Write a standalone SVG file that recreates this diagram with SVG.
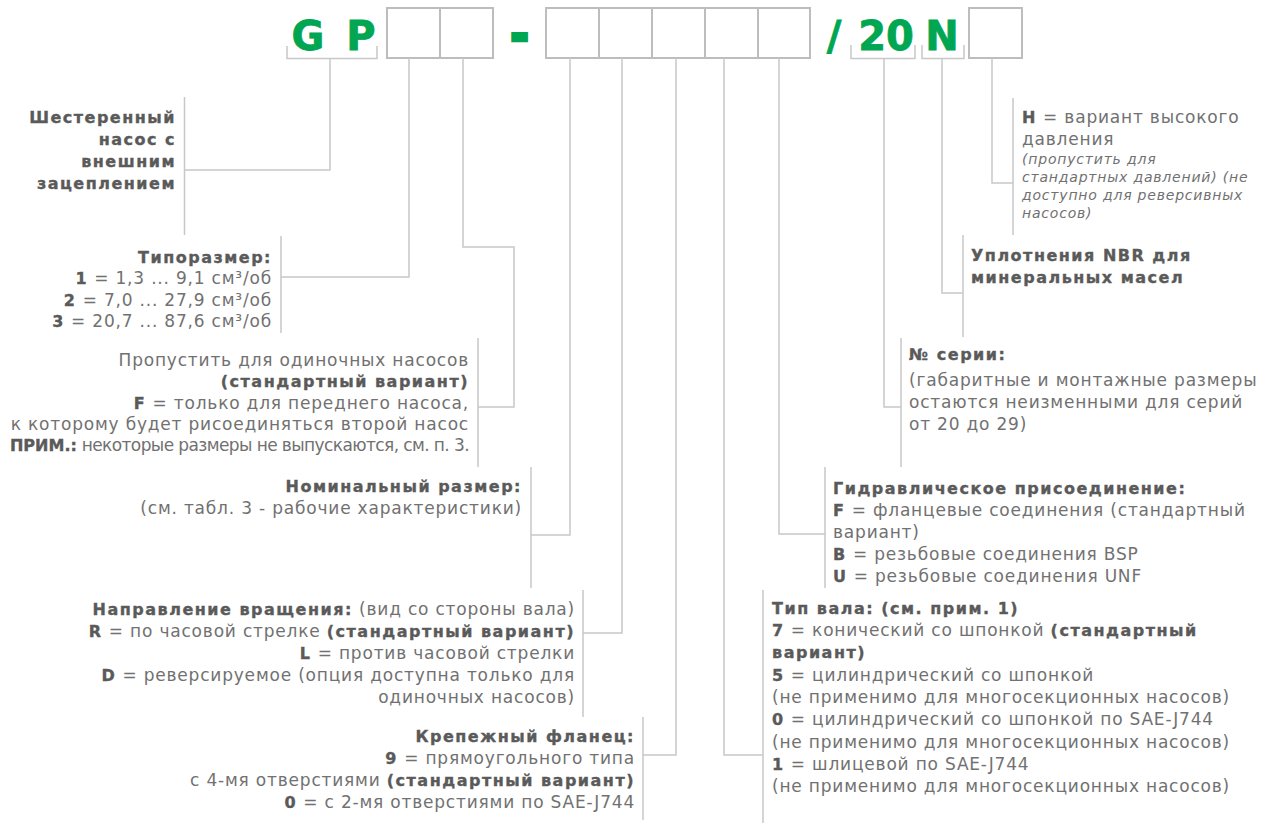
<svg xmlns="http://www.w3.org/2000/svg" width="1268" height="823" viewBox="0 0 1268 823">
<style>
.r{font-family:"DejaVu Sans",sans-serif;font-size:17px;fill:#717171;letter-spacing:0.8px}
.h{font-family:"DejaVu Sans",sans-serif;font-size:16px;font-weight:bold;fill:#5a5a5a;stroke:#5a5a5a;stroke-width:0.35;letter-spacing:1.5px}
.b{font-size:16px;font-weight:bold;fill:#5a5a5a;stroke:#5a5a5a;stroke-width:0.35;letter-spacing:1.5px}
.i{font-style:italic;font-size:14px}
.e{text-anchor:end}
.ln{fill:none;stroke:#c8c8c8;stroke-width:1.5}
.box{fill:none;stroke:#bdbdbd;stroke-width:2}
.g{font-family:"DejaVu Sans",sans-serif;font-weight:bold;font-size:40px;fill:#00a651;stroke:#00a651;stroke-width:0.8;text-anchor:middle}
</style>
<rect width="1268" height="823" fill="#ffffff"/>
<g id="code">
<text class="g" x="308" y="50">G</text>
<text class="g" x="361" y="50">P</text>
<rect class="box" x="387" y="8" width="106" height="50"/>
<line class="box" x1="440" y1="8" x2="440" y2="58"/>
<text class="g" x="519.5" y="49" style="stroke-width:4.5">-</text>
<rect class="box" x="546" y="8" width="264" height="50"/>
<line class="box" x1="599" y1="8" x2="599" y2="58"/>
<line class="box" x1="652" y1="8" x2="652" y2="58"/>
<line class="box" x1="705" y1="8" x2="705" y2="58"/>
<line class="box" x1="758" y1="8" x2="758" y2="58"/>
<text class="g" x="834" y="50">/</text>
<text class="g" x="886" y="50">20</text>
<text class="g" x="942" y="50">N</text>
<rect class="box" x="969" y="8" width="53" height="50"/>
</g>
<g id="connectors">
<path class="ln" d="M287 46V58.5H377V46"/>
<path class="ln" d="M851 45V58.5H915V45"/>
<path class="ln" d="M922 45V58.5H964V45"/>
<path class="ln" d="M330 59V170H184.5M184.5 97V235"/>
<path class="ln" d="M409 58V277H281M281 236V333"/>
<path class="ln" d="M463 58V247H514V407H478M478 338V467"/>
<path class="ln" d="M570 58V535H531M531 467V588"/>
<path class="ln" d="M622 58V633H583M583 590V717"/>
<path class="ln" d="M676 58V755H643M643 717V820"/>
<path class="ln" d="M724 58V755H763M763 590V823"/>
<path class="ln" d="M779 58V534H825M825 467V588"/>
<path class="ln" d="M884 59V407H901M901 338V467"/>
<path class="ln" d="M942 59V293H963M963 235V337"/>
<path class="ln" d="M992 58V183H1013M1013 98V235"/>
</g>
<g id="n-pump">
<text class="h e" x="176" y="123">Шестеренный</text>
<text class="h e" x="176" y="145">насос с</text>
<text class="h e" x="176" y="167">внешним</text>
<text class="h e" x="176" y="189">зацеплением</text>
</g>
<g id="n-size">
<text class="h e" x="272" y="263">Типоразмер:</text>
<text class="r e" x="272" y="284"><tspan class="b">1</tspan> = 1,3 ... 9,1 см³/об</text>
<text class="r e" x="272" y="306"><tspan class="b">2</tspan> = 7,0 ... 27,9 см³/об</text>
<text class="r e" x="272" y="327"><tspan class="b">3</tspan> = 20,7 ... 87,6 см³/об</text>
</g>
<g id="n-front">
<text class="r e" x="469" y="366">Пропустить для одиночных насосов</text>
<text class="h e" x="469" y="387">(стандартный вариант)</text>
<text class="r e" x="469" y="409"><tspan class="b">F</tspan> = только для переднего насоса,</text>
<text class="r e" x="469" y="430">к которому будет рисоединяться второй насос</text>
<text class="r e" x="469" y="451" style="letter-spacing:-0.6px"><tspan class="b" style="letter-spacing:0">ПРИМ.:</tspan> некоторые размеры не выпускаются, см. п. 3.</text>
</g>
<g id="n-nominal">
<text class="h e" x="522" y="492">Номинальный размер:</text>
<text class="r e" x="522" y="514">(см. табл. 3 - рабочие характеристики)</text>
</g>
<g id="n-rotation">
<text class="r e" x="575" y="615"><tspan class="b">Направление вращения:</tspan> (вид со стороны вала)</text>
<text class="r e" x="575" y="637"><tspan class="b">R</tspan> = по часовой стрелке <tspan class="b">(стандартный вариант)</tspan></text>
<text class="r e" x="575" y="659"><tspan class="b">L</tspan> = против часовой стрелки</text>
<text class="r e" x="575" y="681"><tspan class="b">D</tspan> = реверсируемое (опция доступна только для</text>
<text class="r e" x="575" y="703">одиночных насосов)</text>
</g>
<g id="n-flange">
<text class="h e" x="635" y="742">Крепежный фланец:</text>
<text class="r e" x="635" y="764"><tspan class="b">9</tspan> = прямоугольного типа</text>
<text class="r e" x="635" y="786">с 4-мя отверстиями <tspan class="b">(стандартный вариант)</tspan></text>
<text class="r e" x="635" y="808"><tspan class="b">0</tspan> = с 2-мя отверстиями по SAE-J744</text>
</g>
<g id="n-shaft">
<text class="h" x="772" y="614">Тип вала: (см. прим. 1)</text>
<text class="r" x="772" y="636"><tspan class="b">7</tspan> = конический со шпонкой <tspan class="b">(стандартный</tspan></text>
<text class="h" x="772" y="658">вариант)</text>
<text class="r" x="772" y="681"><tspan class="b">5</tspan> = цилиндрический со шпонкой</text>
<text class="r" x="772" y="703">(не применимо для многосекционных насосов)</text>
<text class="r" x="772" y="725"><tspan class="b">0</tspan> = цилиндрический со шпонкой по SAE-J744</text>
<text class="r" x="772" y="748">(не применимо для многосекционных насосов)</text>
<text class="r" x="772" y="770"><tspan class="b">1</tspan> = шлицевой по SAE-J744</text>
<text class="r" x="772" y="792">(не применимо для многосекционных насосов)</text>
</g>
<g id="n-ports">
<text class="h" x="833" y="494">Гидравлическое присоединение:</text>
<text class="r" x="833" y="516"><tspan class="b">F</tspan> = фланцевые соединения (стандартный</text>
<text class="r" x="833" y="538">вариант)</text>
<text class="r" x="833" y="560"><tspan class="b">B</tspan> = резьбовые соединения BSP</text>
<text class="r" x="833" y="582"><tspan class="b">U</tspan> = резьбовые соединения UNF</text>
</g>
<g id="n-series">
<text class="h" x="909" y="360">№ серии:</text>
<text class="r" x="909" y="386">(габаритные и монтажные размеры</text>
<text class="r" x="909" y="408">остаются неизменными для серий</text>
<text class="r" x="909" y="430">от 20 до 29)</text>
</g>
<g id="n-seals">
<text class="h" x="971" y="261">Уплотнения NBR для</text>
<text class="h" x="971" y="283">минеральных масел</text>
</g>
<g id="n-pressure">
<text class="r" x="1022" y="123"><tspan class="b">H</tspan> = вариант высокого</text>
<text class="r" x="1022" y="145">давления</text>
<text class="r i" x="1022" y="164">(пропустить для</text>
<text class="r i" x="1022" y="182">стандартных давлений) (не</text>
<text class="r i" x="1022" y="200">доступно для реверсивных</text>
<text class="r i" x="1022" y="218">насосов)</text>
</g>
</svg>
